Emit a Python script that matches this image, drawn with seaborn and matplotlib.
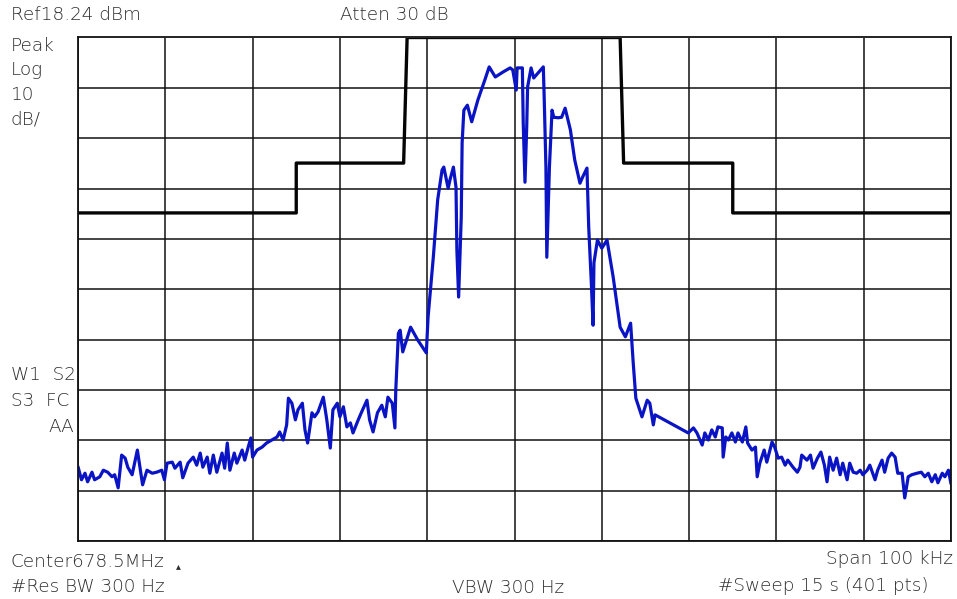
import matplotlib
matplotlib.use("Agg")
import matplotlib.pyplot as plt
import numpy as np
import pandas as pd
import seaborn as sns

# Analyzer settings
REF_LEVEL = 18.24          # dBm, top graticule line
DB_PER_DIV = 10
SPAN_KHZ = 100
CENTER_MHZ = 678.5

# Measured trace, frequency offset from centre (kHz) and level (dBm)
lower_noise_khz = [-50.0, -49.6, -49.2, -48.9, -48.4, -48.1, -47.5, -47.1, -46.6, -46.1,
                   -45.8, -45.4, -45.0, -44.6, -44.3, -43.8, -43.2, -42.9, -42.6, -42.1,
                   -41.5, -41.0, -40.4, -40.1, -39.8, -39.2, -38.9, -38.3, -38.0, -37.4,
                   -36.8, -36.4, -36.0, -35.7, -35.2, -34.9, -34.5, -34.1, -33.5, -33.2,
                   -32.9, -32.6, -32.1]
lower_noise_dbm = [-67.0, -69.6, -68.3, -70.0, -68.1, -69.6, -69.0, -67.7, -68.1, -69.0,
                   -68.6, -71.2, -64.7, -65.3, -67.1, -68.6, -63.7, -67.1, -70.6, -67.7,
                   -68.3, -68.1, -67.7, -69.6, -66.3, -66.1, -67.3, -66.1, -69.2, -66.3,
                   -65.1, -66.7, -64.3, -67.1, -65.1, -68.3, -64.7, -68.1, -64.3, -67.3,
                   -62.3, -67.7, -64.3]

lower_shoulder_khz = [-31.8, -31.2, -30.9, -30.5, -30.2, -30.0, -29.5, -28.9, -28.4, -27.8,
                      -27.2, -26.9, -26.5, -26.1, -25.9, -25.5, -25.1, -24.8, -24.3, -24.0,
                      -23.7, -23.2, -22.9, -22.5, -21.9, -21.5, -21.1, -20.8, -20.3, -20.0,
                      -19.6, -19.2, -18.8, -18.5, -17.9, -17.4, -16.9, -16.6, -16.2, -15.7,
                      -15.2, -14.8, -14.5, -14.0, -13.7]
lower_shoulder_dbm = [-66.3, -63.7, -65.7, -63.1, -61.3, -65.1, -63.7, -63.1, -62.3, -61.7,
                      -61.1, -60.1, -61.7, -58.7, -53.4, -54.4, -57.7, -55.7, -54.4, -59.7,
                      -62.3, -56.3, -57.1, -56.1, -53.2, -57.7, -63.3, -55.7, -54.4, -57.1,
                      -55.1, -59.1, -58.3, -60.3, -57.7, -55.7, -53.8, -57.7, -60.1, -56.3,
                      -54.8, -57.1, -53.2, -54.4, -59.3]

main_left_khz = [-13.6, -13.3, -13.1, -12.8, -11.9, -11.1, -10.1, -9.9, -9.3, -8.8,
                 -8.3, -8.1, -7.6, -7.4, -7.0, -6.7, -6.6, -6.4, -6.1, -6.0,
                 -5.8, -5.4, -4.9, -4.2, -3.4, -2.9, -2.2, -1.3, -0.5]
main_left_dbm = [-51.8, -40.5, -39.9, -44.2, -39.3, -41.8, -44.4, -37.3, -25.4, -14.0,
                 -8.1, -7.5, -11.7, -10.1, -7.5, -11.5, -24.0, -33.3, -17.4, -2.7,
                 3.8, 4.8, 1.5, 5.8, 9.8, 12.4, 10.4, 11.4, 12.2]

main_right_khz = [-0.2, 0.2, 0.3, 0.9, 1.0, 1.2, 1.4, 1.5, 1.9, 2.2,
                  2.7, 3.3, 3.4, 3.6, 3.7, 4.0, 4.3, 4.5, 5.0, 5.4,
                  5.8, 6.4, 6.9, 7.5, 7.8, 8.3, 8.5, 8.8, 9.0, 9.1,
                  9.5, 10.0, 10.6, 11.3, 12.1, 12.7, 13.3, 13.6, 13.9, 14.6,
                  15.2, 15.5]
main_right_dbm = [11.8, 7.8, 12.2, 12.2, 1.3, -10.5, 0.5, 8.4, 12.2, 10.2,
                  11.2, 12.4, 6.4, -7.5, -25.4, -7.5, 3.8, 2.4, 2.3, 2.4,
                  4.2, -0.1, -6.1, -10.7, -9.5, -7.7, -19.4, -30.5, -38.9, -26.5,
                  -22.0, -23.6, -22.0, -29.3, -39.3, -41.2, -38.5, -46.4, -53.4, -57.1,
                  -53.8, -54.4]

upper_shoulder_khz = [15.9, 16.1, 18.2, 19.9, 20.5, 20.9, 21.5, 21.8, 22.2, 22.6,
                      23.0, 23.3, 23.8, 23.9, 24.2, 24.5, 24.9, 25.3, 25.6, 26.1,
                      26.5, 26.7, 27.2, 27.6, 27.8, 28.1, 28.6, 28.9, 29.5, 29.8,
                      30.2, 30.6, 31.0, 31.3, 31.9, 32.4, 32.7]
upper_shoulder_dbm = [-58.7, -56.7, -58.7, -60.3, -59.3, -60.3, -62.7, -60.3, -61.7, -59.7,
                      -61.1, -59.1, -59.3, -65.1, -61.1, -61.7, -60.3, -62.1, -60.3, -62.1,
                      -59.1, -62.3, -63.7, -63.1, -69.0, -66.3, -63.7, -66.1, -62.1, -63.1,
                      -65.3, -65.1, -66.7, -65.7, -67.1, -68.1, -67.1]

upper_noise_khz = [32.9, 33.5, 33.9, 34.2, 34.7, 35.1, 35.5, 35.8, 36.1, 36.5,
                   36.9, 37.3, 37.6, 38.1, 38.4, 38.8, 39.2, 39.6, 39.9, 40.4,
                   40.7, 41.3, 41.6, 42.1, 42.4, 42.8, 43.2, 43.6, 43.9, 44.4,
                   44.7, 45.1, 45.5, 46.1, 46.6, 47.0, 47.4, 47.8, 48.2, 48.5,
                   49.0, 49.3, 49.7, 50.0]
upper_noise_dbm = [-64.7, -65.7, -64.7, -67.3, -65.3, -64.1, -66.7, -70.0, -65.1, -67.7,
                   -65.3, -68.6, -66.3, -69.6, -66.3, -68.1, -68.3, -67.7, -68.6, -67.7,
                   -66.7, -69.6, -67.7, -65.7, -68.1, -65.3, -64.3, -65.1, -68.3, -68.3,
                   -73.2, -69.0, -68.6, -68.3, -68.1, -69.0, -68.3, -70.0, -68.6, -70.2,
                   -68.3, -69.0, -67.7, -70.4]

# Spectrum emission mask (limit line)
mask_khz = [-50.0, -25.0, -25.0, -12.7, -12.3, 12.1, 12.5, 25.0, 25.0, 50.0]
mask_dbm = [-16.6, -16.6, -6.7, -6.7, 18.24, 18.24, -6.7, -6.7, -16.6, -16.6]

trace = pd.DataFrame({
    "khz": (lower_noise_khz + lower_shoulder_khz + main_left_khz
            + main_right_khz + upper_shoulder_khz + upper_noise_khz),
    "dbm": (lower_noise_dbm + lower_shoulder_dbm + main_left_dbm
            + main_right_dbm + upper_shoulder_dbm + upper_noise_dbm),
})
mask = pd.DataFrame({"khz": mask_khz, "dbm": mask_dbm})

sns.set_style("white")
plt.rcParams["font.family"] = ["DejaVu Sans"]

fig = plt.figure(figsize=(9.57, 5.99), dpi=100)
ax = fig.add_axes([78 / 957, 1 - 541 / 599, 873 / 957, 503.5 / 599])

half = SPAN_KHZ / 2
bottom = REF_LEVEL - 10 * DB_PER_DIV
ax.set_xlim(-half, half)
ax.set_ylim(bottom, REF_LEVEL)
ax.set_xticks(np.linspace(-half, half, 11))
ax.set_yticks(np.linspace(bottom, REF_LEVEL, 11))
ax.tick_params(length=0, labelbottom=False, labelleft=False)
ax.grid(True, color="#111111", linewidth=1.1)
ax.set_axisbelow(True)
for sp in ax.spines.values():
    sp.set_color("#111111")
    sp.set_linewidth(1.3)

sns.lineplot(data=mask, x="khz", y="dbm", ax=ax, sort=False, estimator=None,
             color="#050505", linewidth=2.4)
sns.lineplot(data=trace, x="khz", y="dbm", ax=ax, sort=False, estimator=None,
             color="#0a14c4", linewidth=2.3)
ax.set_xlabel("")
ax.set_ylabel("")

tc = "#2e2e2e"
fs = 13.2
def label(x, y, s, ha="left", size=fs, weight="light"):
    fig.text(x / 957, 1 - y / 599, s, ha=ha, va="center", color=tc,
             fontsize=size, fontweight=weight)

label(11, 15, f"Ref{REF_LEVEL:.2f} dBm")
label(340, 15, "Atten 30 dB")
label(11, 46, "Peak")
label(11, 70, "Log")
label(11, 95, "10")
label(11, 120, "dB/")
label(11, 375, "W1  S2")
label(11, 401, "S3  FC")
label(74, 427, "AA", ha="right")
label(11, 562, f"Center{CENTER_MHZ}MHz")
label(176, 566, "\u25b4", size=7, weight="normal")
label(11, 587, "#Res BW 300 Hz")
label(452, 588, "VBW 300 Hz")
label(953, 559, f"Span {SPAN_KHZ} kHz", ha="right")
label(718, 586, "#Sweep 15 s (401 pts)")

fig.savefig("out.png", dpi=100)
